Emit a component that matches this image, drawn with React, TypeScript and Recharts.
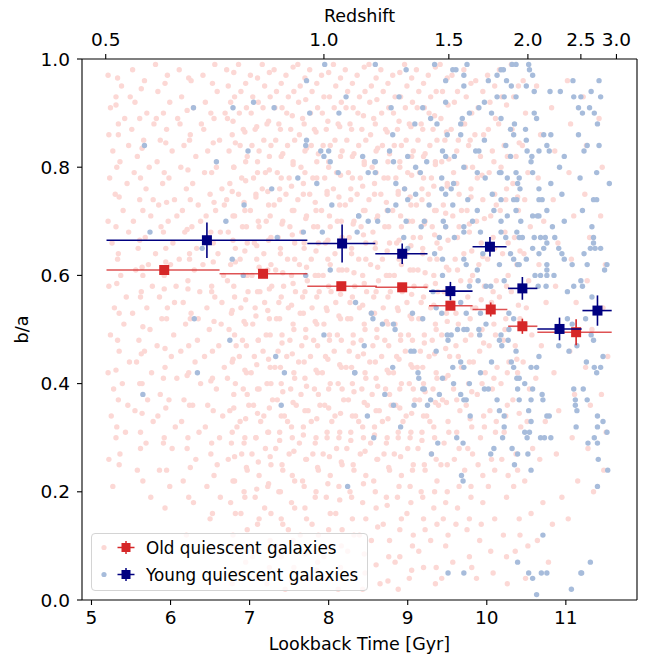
import { ScatterChart, Scatter, XAxis, YAxis, ErrorBar, ReferenceLine } from "recharts";

const FONT = "DejaVu Sans, sans-serif";
const PINK = "#fcd8d5";
const LIGHT_BLUE = "#a7bcdb";
const RED = "#d62728";
const NAVY = "#000080";

type P = [number, number];

// axes
const timeDomain: [number, number] = [4.88, 11.9];
const timeTicks = [5, 6, 7, 8, 9, 10, 11];
const baTicks = [0, 0.2, 0.4, 0.6, 0.8, 1.0];
const zLabels = ["0.5", "1.0", "1.5", "2.0", "2.5", "3.0"];
const zTickTimes = [5.18, 7.94, 9.52, 10.52, 11.19, 11.64];

// binned medians, old quiescent
const oldT = [5.92, 7.17, 8.16, 8.93, 9.54, 10.05, 10.45, 11.13];
const oldBa = [0.61, 0.603, 0.58, 0.578, 0.544, 0.537, 0.506, 0.495];
const oldLo = [5.19, 6.62, 7.73, 8.59, 9.27, 9.82, 10.27, 10.64];
const oldHi = [6.62, 7.73, 8.61, 9.25, 9.82, 10.26, 10.64, 11.58];
const oldErr = [0.006, 0.006, 0.006, 0.007, 0.008, 0.013, 0.014, 0.024];

// binned medians, young quiescent
const youngT = [6.46, 8.17, 8.93, 9.54, 10.04, 10.45, 10.92, 11.4];
const youngBa = [0.665, 0.659, 0.64, 0.571, 0.653, 0.576, 0.501, 0.535];
const youngLo = [5.19, 7.73, 8.59, 9.27, 9.82, 10.27, 10.64, 11.21];
const youngHi = [7.73, 8.59, 9.25, 9.82, 10.25, 10.64, 11.2, 11.58];
const youngErr = [0.033, 0.035, 0.019, 0.017, 0.018, 0.021, 0.021, 0.028];

// individual old galaxies (read roughly off the cloud)
const oldBand1: P[] = [[5.21,0.97],[5.24,0.91],[5.22,0.86],[5.27,0.83],[5.23,0.78],[5.30,0.75],[5.21,0.70],[5.26,0.66],[5.33,0.63],[5.22,0.58],[5.29,0.54],[5.24,0.49],[5.35,0.46],[5.21,0.42],[5.28,0.39],[5.25,0.34],[5.31,0.30],[5.22,0.26],[5.27,0.21],[5.38,0.95],[5.42,0.89],[5.36,0.81],[5.45,0.77],[5.40,0.72],[5.47,0.68],[5.37,0.60],[5.44,0.56],[5.41,0.51],[5.48,0.44],[5.39,0.40],[5.46,0.36],[5.43,0.31],[5.36,0.27],[5.49,0.93],[5.47,0.84],[5.34,0.88],[5.31,0.93],
[5.52,0.98],[5.55,0.92],[5.51,0.87],[5.58,0.82],[5.54,0.79],[5.61,0.74],[5.53,0.70],[5.59,0.65],[5.56,0.61],[5.63,0.57],[5.52,0.53],[5.60,0.48],[5.57,0.44],[5.64,0.40],[5.55,0.35],[5.62,0.31],[5.58,0.24],[5.67,0.96],[5.70,0.90],[5.66,0.85],[5.73,0.80],[5.69,0.76],[5.75,0.71],[5.68,0.67],[5.72,0.62],[5.77,0.58],[5.70,0.54],[5.74,0.50],[5.67,0.46],[5.76,0.42],[5.71,0.37],[5.78,0.33],[5.69,0.29],[5.75,0.19],[5.79,0.88],[5.78,0.74],[5.65,0.60]];
const oldBand2: P[] = [[5.81,0.99],[5.84,0.94],[5.82,0.89],[5.87,0.85],[5.83,0.81],[5.90,0.77],[5.85,0.73],[5.88,0.69],[5.81,0.64],[5.92,0.60],[5.86,0.56],[5.89,0.52],[5.83,0.47],[5.93,0.43],[5.87,0.38],[5.84,0.34],[5.91,0.29],[5.86,0.24],[5.96,0.97],[5.99,0.92],[5.95,0.87],[6.02,0.83],[5.98,0.78],[6.05,0.74],[5.97,0.70],[6.03,0.66],[6.00,0.62],[6.07,0.58],[5.96,0.54],[6.04,0.49],[6.01,0.45],[6.08,0.41],[5.98,0.37],[6.06,0.32],[6.02,0.28],[5.99,0.21],[6.09,0.89],[6.08,0.71],[5.94,0.65],[6.05,0.55],
[6.11,0.98],[6.14,0.93],[6.12,0.88],[6.17,0.84],[6.13,0.80],[6.20,0.76],[6.15,0.72],[6.18,0.68],[6.11,0.63],[6.22,0.59],[6.16,0.55],[6.19,0.51],[6.13,0.46],[6.23,0.42],[6.17,0.37],[6.14,0.33],[6.21,0.28],[6.16,0.22],[6.26,0.96],[6.29,0.91],[6.25,0.86],[6.32,0.82],[6.28,0.77],[6.35,0.73],[6.27,0.69],[6.33,0.65],[6.30,0.61],[6.37,0.57],[6.26,0.53],[6.34,0.48],[6.31,0.44],[6.38,0.40],[6.28,0.36],[6.36,0.31],[6.32,0.26],[6.29,0.18],[6.39,0.88],[6.38,0.70],[6.24,0.64],[6.35,0.52],[6.20,0.12],
[6.41,0.97],[6.44,0.92],[6.42,0.87],[6.47,0.83],[6.43,0.79],[6.50,0.75],[6.45,0.71],[6.48,0.67],[6.41,0.62],[6.52,0.58],[6.46,0.54],[6.49,0.50],[6.43,0.45],[6.53,0.41],[6.47,0.36],[6.44,0.32],[6.51,0.27],[6.46,0.21],[6.56,0.99],[6.59,0.94],[6.55,0.89],[6.62,0.85],[6.58,0.80],[6.65,0.76],[6.57,0.72],[6.63,0.68],[6.60,0.64],[6.67,0.60],[6.56,0.56],[6.64,0.51],[6.61,0.47],[6.68,0.43],[6.58,0.39],[6.66,0.34],[6.62,0.30],[6.59,0.25],[6.69,0.90],[6.68,0.73],[6.54,0.66],[6.65,0.55],[6.50,0.15],[6.63,0.19]];
const oldBand3: P[] = [[6.71,0.98],[6.73,0.95],[6.76,0.92],[6.72,0.89],[6.78,0.86],[6.74,0.83],[6.80,0.80],[6.75,0.77],[6.71,0.74],[6.79,0.71],[6.73,0.68],[6.82,0.65],[6.76,0.62],[6.72,0.59],[6.81,0.56],[6.77,0.53],[6.74,0.50],[6.83,0.47],[6.78,0.44],[6.72,0.41],[6.80,0.38],[6.75,0.35],[6.84,0.32],[6.77,0.29],[6.73,0.26],[6.81,0.22],[6.76,0.18],[6.79,0.12],[6.86,0.99],[6.89,0.94],[6.87,0.90],[6.92,0.87],[6.88,0.84],[6.95,0.81],[6.90,0.78],[6.86,0.75],[6.94,0.72],[6.91,0.69],[6.97,0.66],[6.88,0.63],[6.93,0.60],[6.98,0.57],[6.89,0.54],[6.95,0.51],[6.91,0.48],[6.87,0.45],[6.96,0.42],[6.92,0.39],[6.99,0.36],[6.88,0.33],[6.94,0.30],[6.90,0.27],[6.97,0.24],[6.93,0.20],[6.89,0.16],[6.96,0.09],[6.85,0.05],
[7.01,0.97],[7.04,0.93],[7.02,0.90],[7.07,0.87],[7.03,0.84],[7.10,0.81],[7.05,0.78],[7.08,0.75],[7.01,0.72],[7.12,0.69],[7.06,0.66],[7.09,0.63],[7.03,0.60],[7.13,0.57],[7.07,0.54],[7.04,0.51],[7.11,0.48],[7.06,0.45],[7.02,0.42],[7.10,0.39],[7.05,0.36],[7.14,0.33],[7.08,0.30],[7.03,0.27],[7.12,0.23],[7.07,0.19],[7.10,0.14],[7.04,0.08],[7.16,0.99],[7.19,0.95],[7.17,0.91],[7.22,0.88],[7.18,0.85],[7.25,0.82],[7.20,0.79],[7.16,0.76],[7.24,0.73],[7.21,0.70],[7.27,0.67],[7.18,0.64],[7.23,0.61],[7.28,0.58],[7.19,0.55],[7.25,0.52],[7.21,0.49],[7.17,0.46],[7.26,0.43],[7.22,0.40],[7.29,0.37],[7.18,0.34],[7.24,0.31],[7.20,0.28],[7.27,0.25],[7.23,0.21],[7.19,0.17],[7.26,0.11],[7.22,0.03]];
const oldBand4: P[] = [[7.31,0.98],[7.34,0.94],[7.32,0.91],[7.37,0.88],[7.33,0.85],[7.40,0.82],[7.35,0.79],[7.38,0.76],[7.31,0.73],[7.42,0.70],[7.36,0.67],[7.39,0.64],[7.33,0.61],[7.43,0.58],[7.37,0.55],[7.34,0.52],[7.41,0.49],[7.36,0.46],[7.32,0.43],[7.40,0.40],[7.35,0.37],[7.44,0.34],[7.38,0.31],[7.33,0.28],[7.42,0.24],[7.37,0.20],[7.40,0.15],[7.34,0.10],[7.46,0.97],[7.49,0.93],[7.47,0.90],[7.52,0.87],[7.48,0.84],[7.55,0.81],[7.50,0.78],[7.46,0.75],[7.54,0.72],[7.51,0.69],[7.57,0.66],[7.48,0.63],[7.53,0.60],[7.58,0.57],[7.49,0.54],[7.55,0.51],[7.51,0.48],[7.47,0.45],[7.56,0.42],[7.52,0.39],[7.59,0.36],[7.48,0.33],[7.54,0.30],[7.50,0.27],[7.57,0.22],[7.53,0.18],[7.49,0.13],[7.56,0.06],[7.45,0.02],
[7.61,0.99],[7.64,0.95],[7.62,0.92],[7.67,0.89],[7.63,0.86],[7.70,0.83],[7.65,0.80],[7.68,0.77],[7.61,0.74],[7.72,0.71],[7.66,0.68],[7.69,0.65],[7.63,0.62],[7.73,0.59],[7.67,0.56],[7.64,0.53],[7.71,0.50],[7.66,0.47],[7.62,0.44],[7.70,0.41],[7.65,0.38],[7.74,0.35],[7.68,0.32],[7.63,0.29],[7.72,0.26],[7.67,0.22],[7.70,0.17],[7.64,0.12],[7.76,0.98],[7.79,0.94],[7.77,0.90],[7.82,0.87],[7.78,0.84],[7.85,0.81],[7.80,0.78],[7.76,0.75],[7.84,0.72],[7.81,0.69],[7.87,0.66],[7.78,0.63],[7.83,0.60],[7.88,0.57],[7.79,0.54],[7.85,0.51],[7.81,0.48],[7.77,0.45],[7.86,0.42],[7.82,0.39],[7.89,0.36],[7.78,0.33],[7.84,0.30],[7.80,0.27],[7.87,0.24],[7.83,0.19],[7.79,0.14],[7.86,0.07],[7.75,0.04]];
const oldBand5: P[] = [[7.91,0.97],[7.94,0.93],[7.92,0.90],[7.97,0.87],[7.93,0.84],[8.00,0.81],[7.95,0.78],[7.98,0.75],[7.91,0.72],[8.02,0.69],[7.96,0.66],[7.99,0.63],[7.93,0.60],[8.03,0.57],[7.97,0.54],[7.94,0.51],[8.01,0.48],[7.96,0.45],[7.92,0.42],[8.00,0.39],[7.95,0.36],[8.04,0.33],[7.98,0.30],[7.93,0.27],[8.02,0.23],[7.97,0.19],[8.00,0.13],[7.94,0.08],[8.06,0.99],[8.09,0.95],[8.07,0.91],[8.12,0.88],[8.08,0.85],[8.15,0.82],[8.10,0.79],[8.06,0.76],[8.14,0.73],[8.11,0.70],[8.17,0.67],[8.08,0.64],[8.13,0.61],[8.18,0.58],[8.09,0.55],[8.15,0.52],[8.11,0.49],[8.07,0.46],[8.16,0.43],[8.12,0.40],[8.19,0.37],[8.08,0.34],[8.14,0.31],[8.10,0.28],[8.17,0.25],[8.13,0.21],[8.09,0.16],[8.16,0.10],[8.12,0.02],
[8.21,0.98],[8.24,0.94],[8.22,0.91],[8.27,0.88],[8.23,0.85],[8.30,0.82],[8.25,0.79],[8.28,0.76],[8.21,0.73],[8.32,0.70],[8.26,0.67],[8.29,0.64],[8.23,0.61],[8.33,0.58],[8.27,0.55],[8.24,0.52],[8.31,0.49],[8.26,0.46],[8.22,0.43],[8.30,0.40],[8.25,0.37],[8.34,0.34],[8.28,0.31],[8.23,0.28],[8.32,0.24],[8.27,0.20],[8.30,0.15],[8.24,0.09],[8.36,0.97],[8.39,0.93],[8.37,0.90],[8.42,0.87],[8.38,0.84],[8.45,0.81],[8.40,0.78],[8.36,0.75],[8.44,0.72],[8.41,0.69],[8.47,0.66],[8.38,0.63],[8.43,0.60],[8.48,0.57],[8.39,0.54],[8.45,0.51],[8.41,0.48],[8.37,0.45],[8.46,0.42],[8.42,0.39],[8.49,0.36],[8.38,0.33],[8.44,0.30],[8.40,0.27],[8.47,0.23],[8.43,0.18],[8.39,0.12],[8.46,0.05]];
const oldBand6: P[] = [[8.51,0.99],[8.54,0.95],[8.52,0.92],[8.57,0.89],[8.53,0.86],[8.60,0.83],[8.55,0.80],[8.58,0.77],[8.51,0.74],[8.62,0.71],[8.56,0.68],[8.59,0.65],[8.53,0.62],[8.63,0.59],[8.57,0.56],[8.54,0.53],[8.61,0.50],[8.56,0.47],[8.52,0.44],[8.60,0.41],[8.55,0.38],[8.64,0.35],[8.58,0.32],[8.53,0.29],[8.62,0.26],[8.57,0.22],[8.60,0.17],[8.54,0.11],[8.66,0.98],[8.69,0.94],[8.67,0.90],[8.72,0.87],[8.68,0.84],[8.75,0.81],[8.70,0.78],[8.66,0.75],[8.74,0.72],[8.71,0.69],[8.77,0.66],[8.68,0.63],[8.73,0.60],[8.78,0.57],[8.69,0.54],[8.75,0.51],[8.71,0.48],[8.67,0.45],[8.76,0.42],[8.72,0.39],[8.79,0.36],[8.68,0.33],[8.74,0.30],[8.70,0.27],[8.77,0.24],[8.73,0.19],[8.69,0.14],[8.76,0.08],[8.65,0.03],
[8.81,0.97],[8.84,0.93],[8.82,0.90],[8.87,0.87],[8.83,0.84],[8.90,0.81],[8.85,0.78],[8.88,0.75],[8.81,0.72],[8.92,0.69],[8.86,0.66],[8.89,0.63],[8.83,0.60],[8.93,0.57],[8.87,0.54],[8.84,0.51],[8.91,0.48],[8.86,0.45],[8.82,0.42],[8.90,0.39],[8.85,0.36],[8.94,0.33],[8.88,0.30],[8.83,0.27],[8.92,0.23],[8.87,0.19],[8.90,0.13],[8.84,0.07],[8.96,0.99],[8.99,0.95],[8.97,0.91],[9.02,0.88],[8.98,0.85],[9.05,0.82],[9.00,0.79],[8.96,0.76],[9.04,0.73],[9.01,0.70],[9.07,0.67],[8.98,0.64],[9.03,0.61],[9.08,0.58],[8.99,0.55],[9.05,0.52],[9.01,0.49],[8.97,0.46],[9.06,0.43],[9.02,0.40],[9.09,0.37],[8.98,0.34],[9.04,0.31],[9.00,0.28],[9.07,0.25],[9.03,0.21],[8.99,0.16],[9.06,0.10],[9.02,0.04]];
const oldBand7: P[] = [[9.11,0.98],[9.14,0.94],[9.12,0.91],[9.17,0.88],[9.13,0.85],[9.20,0.82],[9.15,0.79],[9.18,0.76],[9.11,0.73],[9.22,0.70],[9.16,0.67],[9.19,0.64],[9.13,0.61],[9.23,0.58],[9.17,0.55],[9.14,0.52],[9.21,0.49],[9.16,0.46],[9.12,0.43],[9.20,0.40],[9.15,0.37],[9.24,0.34],[9.18,0.31],[9.13,0.28],[9.22,0.24],[9.17,0.20],[9.20,0.15],[9.14,0.09],[9.26,0.97],[9.29,0.93],[9.27,0.90],[9.32,0.87],[9.28,0.84],[9.35,0.81],[9.30,0.78],[9.26,0.75],[9.34,0.72],[9.31,0.69],[9.37,0.66],[9.28,0.63],[9.33,0.60],[9.38,0.57],[9.29,0.54],[9.35,0.51],[9.31,0.48],[9.27,0.45],[9.36,0.42],[9.32,0.39],[9.39,0.36],[9.28,0.33],[9.34,0.30],[9.30,0.27],[9.37,0.22],[9.33,0.17],[9.29,0.11],[9.36,0.06],
[9.41,0.99],[9.44,0.94],[9.42,0.89],[9.47,0.85],[9.43,0.81],[9.50,0.77],[9.45,0.73],[9.48,0.69],[9.41,0.65],[9.52,0.61],[9.46,0.57],[9.49,0.53],[9.43,0.49],[9.53,0.45],[9.47,0.41],[9.44,0.37],[9.51,0.33],[9.46,0.29],[9.42,0.25],[9.50,0.20],[9.45,0.15],[9.48,0.10],[9.43,0.04],[9.56,0.97],[9.59,0.92],[9.55,0.87],[9.62,0.83],[9.58,0.79],[9.65,0.75],[9.57,0.71],[9.63,0.67],[9.60,0.63],[9.67,0.59],[9.56,0.55],[9.64,0.51],[9.61,0.47],[9.68,0.43],[9.58,0.39],[9.66,0.35],[9.62,0.31],[9.59,0.26],[9.65,0.21],[9.61,0.14],[9.57,0.07],[9.69,0.88],[9.68,0.72]];
const oldBand8: P[] = [[9.71,0.98],[9.74,0.93],[9.72,0.88],[9.77,0.84],[9.73,0.80],[9.80,0.76],[9.75,0.72],[9.78,0.68],[9.71,0.64],[9.82,0.60],[9.76,0.56],[9.79,0.52],[9.73,0.48],[9.83,0.44],[9.77,0.40],[9.74,0.36],[9.81,0.32],[9.76,0.28],[9.72,0.24],[9.80,0.19],[9.75,0.13],[9.78,0.08],[9.86,0.96],[9.89,0.91],[9.85,0.86],[9.92,0.82],[9.88,0.78],[9.95,0.74],[9.87,0.70],[9.93,0.66],[9.90,0.62],[9.97,0.58],[9.86,0.54],[9.94,0.50],[9.91,0.46],[9.98,0.42],[9.88,0.38],[9.96,0.34],[9.92,0.30],[9.89,0.25],[9.95,0.18],[9.91,0.11],[9.87,0.04],
[10.01,0.97],[10.04,0.92],[10.02,0.87],[10.07,0.83],[10.03,0.79],[10.10,0.75],[10.05,0.71],[10.08,0.67],[10.01,0.63],[10.12,0.59],[10.06,0.55],[10.09,0.51],[10.03,0.47],[10.13,0.43],[10.07,0.39],[10.04,0.35],[10.11,0.31],[10.06,0.26],[10.02,0.21],[10.10,0.15],[10.05,0.09],[10.16,0.98],[10.19,0.93],[10.15,0.88],[10.22,0.84],[10.18,0.80],[10.25,0.76],[10.17,0.72],[10.23,0.68],[10.20,0.64],[10.27,0.60],[10.16,0.56],[10.24,0.52],[10.21,0.48],[10.28,0.44],[10.18,0.40],[10.26,0.36],[10.22,0.31],[10.19,0.26],[10.25,0.19],[10.21,0.12],[10.26,0.03]];
const oldBand9: P[] = [[10.31,0.99],[10.34,0.93],[10.32,0.87],[10.37,0.82],[10.33,0.77],[10.40,0.72],[10.35,0.67],[10.38,0.62],[10.31,0.57],[10.42,0.52],[10.36,0.47],[10.39,0.42],[10.33,0.37],[10.43,0.32],[10.37,0.27],[10.34,0.21],[10.41,0.15],[10.36,0.09],[10.46,0.96],[10.49,0.90],[10.45,0.84],[10.52,0.79],[10.48,0.74],[10.55,0.69],[10.47,0.64],[10.53,0.59],[10.50,0.54],[10.57,0.49],[10.46,0.44],[10.54,0.39],[10.51,0.33],[10.58,0.28],[10.48,0.22],[10.56,0.16],[10.52,0.10],[10.49,0.04],
[10.63,0.95],[10.68,0.86],[10.65,0.78],[10.72,0.70],[10.66,0.62],[10.75,0.55],[10.69,0.47],[10.62,0.41],[10.74,0.33],[10.67,0.26],[10.71,0.18],[10.64,0.11],[10.78,0.07],[10.82,0.91],[10.86,0.83],[10.84,0.74],[10.90,0.66],[10.87,0.58],[10.93,0.50],[10.85,0.42],[10.91,0.35],[10.88,0.27],[10.95,0.19],[10.83,0.14],[11.02,0.96],[11.06,0.88],[11.04,0.79],[11.10,0.71],[11.07,0.63],[11.13,0.55],[11.05,0.46],[11.11,0.38],[11.08,0.30],[11.15,0.22],[11.03,0.15],[11.22,0.93],[11.26,0.84],[11.24,0.75],[11.30,0.67],[11.27,0.59],[11.33,0.50],[11.25,0.43],[11.31,0.36],[11.28,0.28],[11.35,0.20],[11.42,0.89],[11.46,0.80],[11.44,0.71],[11.50,0.62],[11.47,0.54],[11.53,0.45],[11.45,0.38],[11.51,0.31],[11.48,0.24]];
// filling in between the first pass
const oldFill1: P[] = [[5.33,0.965],[5.31,0.915],[5.34,0.86],[5.32,0.80],[5.35,0.745],[5.31,0.69],[5.34,0.64],[5.32,0.585],[5.35,0.53],[5.33,0.48],[5.31,0.425],[5.34,0.37],[5.32,0.32],[5.35,0.25],
[5.63,0.945],[5.61,0.89],[5.64,0.835],[5.62,0.78],[5.65,0.72],[5.61,0.665],[5.64,0.615],[5.62,0.56],[5.65,0.505],[5.63,0.455],[5.61,0.40],[5.64,0.345],[5.62,0.28],[5.65,0.22],
[5.93,0.955],[5.91,0.90],[5.94,0.845],[5.92,0.79],[5.95,0.735],[5.91,0.68],[5.94,0.625],[5.92,0.575],[5.95,0.52],[5.93,0.465],[5.91,0.41],[5.94,0.355],[5.92,0.30],[5.95,0.24],[5.93,0.17],
[6.23,0.965],[6.21,0.905],[6.24,0.85],[6.22,0.795],[6.25,0.74],[6.21,0.685],[6.24,0.63],[6.22,0.575],[6.25,0.52],[6.23,0.47],[6.21,0.415],[6.24,0.36],[6.22,0.30],[6.25,0.245],[6.23,0.19],
[6.53,0.955],[6.51,0.90],[6.54,0.845],[6.52,0.79],[6.55,0.735],[6.51,0.68],[6.54,0.625],[6.52,0.57],[6.55,0.515],[6.53,0.46],[6.51,0.405],[6.54,0.35],[6.52,0.29],[6.55,0.23],[6.53,0.16]];
const oldFill2: P[] = [[6.80,0.975],[6.81,0.93],[6.79,0.885],[6.82,0.845],[6.80,0.80],[6.78,0.755],[6.81,0.71],[6.79,0.665],[6.82,0.625],[6.80,0.58],[6.78,0.535],[6.81,0.49],[6.79,0.445],[6.82,0.40],[6.80,0.355],[6.78,0.31],[6.81,0.265],[6.79,0.22],[6.82,0.16],[6.80,0.10],[6.78,0.03],
[6.95,0.955],[6.96,0.91],[6.94,0.865],[6.97,0.82],[6.95,0.775],[6.93,0.735],[6.96,0.69],[6.94,0.645],[6.97,0.60],[6.95,0.555],[6.93,0.515],[6.96,0.47],[6.94,0.425],[6.97,0.38],[6.95,0.335],[6.93,0.29],[6.96,0.245],[6.94,0.19],[6.97,0.13],[6.95,0.07],
[7.10,0.965],[7.11,0.92],[7.09,0.875],[7.12,0.83],[7.10,0.79],[7.08,0.745],[7.11,0.70],[7.09,0.655],[7.12,0.615],[7.10,0.57],[7.08,0.525],[7.11,0.48],[7.09,0.435],[7.12,0.39],[7.10,0.345],[7.08,0.30],[7.11,0.255],[7.09,0.205],[7.12,0.15],[7.10,0.09],[7.08,0.04],
[7.25,0.975],[7.26,0.93],[7.24,0.885],[7.27,0.84],[7.25,0.795],[7.23,0.755],[7.26,0.71],[7.24,0.665],[7.27,0.62],[7.25,0.575],[7.23,0.535],[7.26,0.49],[7.24,0.445],[7.27,0.40],[7.25,0.355],[7.23,0.31],[7.26,0.265],[7.24,0.215],[7.27,0.16],[7.25,0.06]];
const oldFill3: P[] = [[7.40,0.955],[7.41,0.91],[7.39,0.87],[7.42,0.825],[7.40,0.78],[7.38,0.74],[7.41,0.695],[7.39,0.65],[7.42,0.605],[7.40,0.56],[7.38,0.52],[7.41,0.475],[7.39,0.43],[7.42,0.385],[7.40,0.34],[7.38,0.295],[7.41,0.25],[7.39,0.20],[7.42,0.14],[7.40,0.08],
[7.55,0.985],[7.56,0.94],[7.54,0.895],[7.57,0.85],[7.55,0.805],[7.53,0.765],[7.56,0.72],[7.54,0.675],[7.57,0.63],[7.55,0.585],[7.53,0.545],[7.56,0.50],[7.54,0.455],[7.57,0.41],[7.55,0.365],[7.53,0.32],[7.56,0.275],[7.54,0.23],[7.57,0.17],[7.55,0.11],[7.53,0.035],
[7.70,0.965],[7.71,0.925],[7.69,0.88],[7.72,0.835],[7.70,0.79],[7.68,0.75],[7.71,0.705],[7.69,0.66],[7.72,0.615],[7.70,0.57],[7.68,0.53],[7.71,0.485],[7.69,0.44],[7.72,0.395],[7.70,0.35],[7.68,0.305],[7.71,0.26],[7.69,0.21],[7.72,0.15],[7.70,0.085],
[7.85,0.955],[7.86,0.91],[7.84,0.865],[7.87,0.825],[7.85,0.78],[7.83,0.735],[7.86,0.69],[7.84,0.645],[7.87,0.60],[7.85,0.56],[7.83,0.515],[7.86,0.47],[7.84,0.425],[7.87,0.38],[7.85,0.335],[7.83,0.29],[7.86,0.245],[7.84,0.20],[7.87,0.12],[7.85,0.055]];
const oldFill4: P[] = [[8.00,0.975],[8.01,0.93],[7.99,0.885],[8.02,0.84],[8.00,0.80],[7.98,0.755],[8.01,0.71],[7.99,0.665],[8.02,0.62],[8.00,0.58],[7.98,0.535],[8.01,0.49],[7.99,0.445],[8.02,0.40],[8.00,0.355],[7.98,0.31],[8.01,0.265],[7.99,0.215],[8.02,0.16],[8.00,0.095],[7.98,0.04],
[8.15,0.965],[8.16,0.92],[8.14,0.875],[8.17,0.83],[8.15,0.785],[8.13,0.745],[8.16,0.70],[8.14,0.655],[8.17,0.61],[8.15,0.565],[8.13,0.525],[8.16,0.48],[8.14,0.435],[8.17,0.39],[8.15,0.345],[8.13,0.30],[8.16,0.255],[8.14,0.185],[8.17,0.13],[8.15,0.06],
[8.30,0.955],[8.31,0.91],[8.29,0.87],[8.32,0.825],[8.30,0.78],[8.28,0.74],[8.31,0.695],[8.29,0.65],[8.32,0.605],[8.30,0.56],[8.28,0.52],[8.31,0.475],[8.29,0.43],[8.32,0.385],[8.30,0.34],[8.28,0.295],[8.31,0.25],[8.29,0.19],[8.32,0.12],[8.30,0.045],
[8.45,0.985],[8.46,0.94],[8.44,0.895],[8.47,0.85],[8.45,0.805],[8.43,0.765],[8.46,0.72],[8.44,0.675],[8.47,0.63],[8.45,0.585],[8.43,0.545],[8.46,0.50],[8.44,0.455],[8.47,0.41],[8.45,0.365],[8.43,0.32],[8.46,0.275],[8.44,0.215],[8.47,0.15],[8.45,0.085],[8.43,0.02]];
const oldFill5: P[] = [[8.60,0.965],[8.61,0.925],[8.59,0.88],[8.62,0.835],[8.60,0.79],[8.58,0.75],[8.61,0.705],[8.59,0.66],[8.62,0.615],[8.60,0.57],[8.58,0.53],[8.61,0.485],[8.59,0.44],[8.62,0.395],[8.60,0.35],[8.58,0.305],[8.61,0.26],[8.59,0.20],[8.62,0.135],[8.60,0.065],
[8.75,0.955],[8.76,0.91],[8.74,0.865],[8.77,0.825],[8.75,0.78],[8.73,0.735],[8.76,0.69],[8.74,0.645],[8.77,0.60],[8.75,0.56],[8.73,0.515],[8.76,0.47],[8.74,0.425],[8.77,0.38],[8.75,0.335],[8.73,0.29],[8.76,0.245],[8.74,0.175],[8.77,0.11],[8.75,0.035],
[8.90,0.975],[8.91,0.93],[8.89,0.885],[8.92,0.84],[8.90,0.80],[8.88,0.755],[8.91,0.71],[8.89,0.665],[8.92,0.62],[8.90,0.58],[8.88,0.535],[8.91,0.49],[8.89,0.445],[8.92,0.40],[8.90,0.355],[8.88,0.31],[8.91,0.265],[8.89,0.21],[8.92,0.15],[8.90,0.08],[8.88,0.02],
[9.05,0.965],[9.06,0.92],[9.04,0.875],[9.07,0.83],[9.05,0.785],[9.03,0.745],[9.06,0.70],[9.04,0.655],[9.07,0.61],[9.05,0.565],[9.03,0.525],[9.06,0.48],[9.04,0.435],[9.07,0.39],[9.05,0.345],[9.03,0.30],[9.06,0.24],[9.04,0.18],[9.07,0.12],[9.05,0.055]];
const oldFill6: P[] = [[9.20,0.955],[9.21,0.91],[9.19,0.87],[9.22,0.825],[9.20,0.78],[9.18,0.74],[9.21,0.695],[9.19,0.65],[9.22,0.605],[9.20,0.56],[9.18,0.52],[9.21,0.475],[9.19,0.43],[9.22,0.385],[9.20,0.34],[9.18,0.295],[9.21,0.25],[9.19,0.19],[9.22,0.13],[9.20,0.06],
[9.35,0.985],[9.36,0.94],[9.34,0.895],[9.37,0.85],[9.35,0.805],[9.33,0.765],[9.36,0.72],[9.34,0.675],[9.37,0.63],[9.35,0.585],[9.33,0.545],[9.36,0.50],[9.34,0.455],[9.37,0.41],[9.35,0.365],[9.33,0.32],[9.36,0.26],[9.34,0.20],[9.37,0.14],[9.35,0.03],
[9.50,0.965],[9.51,0.915],[9.49,0.865],[9.52,0.815],[9.50,0.765],[9.48,0.715],[9.51,0.665],[9.49,0.615],[9.52,0.565],[9.50,0.515],[9.48,0.465],[9.51,0.415],[9.49,0.365],[9.52,0.31],[9.50,0.25],[9.48,0.18],[9.51,0.12],
[9.63,0.94],[9.64,0.85],[9.62,0.77],[9.65,0.69],[9.63,0.61],[9.61,0.53],[9.64,0.45],[9.62,0.37],[9.65,0.28],[9.63,0.17],
[9.80,0.955],[9.81,0.90],[9.79,0.85],[9.82,0.80],[9.80,0.745],[9.78,0.695],[9.81,0.645],[9.79,0.59],[9.82,0.54],[9.80,0.49],[9.78,0.44],[9.81,0.385],[9.79,0.335],[9.82,0.27],[9.80,0.21],[9.78,0.15],[9.81,0.06],
[9.95,0.94],[9.96,0.86],[9.94,0.785],[9.97,0.705],[9.95,0.635],[9.93,0.555],[9.96,0.475],[9.94,0.40],[9.97,0.32],[9.95,0.23],[9.93,0.14],
[10.10,0.95],[10.11,0.89],[10.09,0.81],[10.12,0.73],[10.10,0.65],[10.08,0.57],[10.11,0.49],[10.09,0.41],[10.12,0.33],[10.10,0.24],[10.08,0.05],
[10.25,0.915],[10.26,0.82],[10.24,0.74],[10.27,0.66],[10.25,0.58],[10.23,0.50],[10.26,0.42],[10.24,0.34],[10.27,0.23],[10.25,0.08],
[10.40,0.95],[10.41,0.845],[10.39,0.745],[10.42,0.645],[10.40,0.545],[10.38,0.445],[10.41,0.345],[10.39,0.24],[10.42,0.12]];

// individual young galaxies
const youngLeft: P[] = [[7.95,0.99],[7.72,0.96],[8.22,0.93],[7.05,0.92],[7.31,0.91],[6.29,0.91],[6.79,0.91],[7.76,0.90],[8.13,0.90],[7.72,0.85],[7.71,0.84],[5.67,0.84],[6.98,0.83],[7.90,0.83],[7.94,0.82],[8.00,0.83],[8.02,0.81],[6.58,0.81],[8.12,0.79],[7.61,0.78],[7.85,0.77],[7.28,0.76],[8.04,0.73],[6.93,0.73],[6.70,0.70],[5.74,0.68],[7.68,0.68],[7.92,0.68],[7.35,0.67],[8.36,0.68],[6.40,0.65],[6.78,0.63],[8.02,0.61],[6.92,0.60],[7.71,0.60],[8.34,0.55],[6.30,0.52],[8.38,0.71],
[6.75,0.48],[7.94,0.49],[7.33,0.45],[6.34,0.42],[7.44,0.42],[8.33,0.42],[5.65,0.38],[7.40,0.36],[8.24,0.21]];
const youngUpper: P[] = [[8.59,0.99],[8.98,0.98],[9.34,0.99],[9.57,0.98],[9.61,0.98],[9.75,0.99],[9.71,0.97],[10.18,0.98],[10.21,0.98],[10.32,0.99],[10.37,0.99],[10.53,0.99],[10.54,0.98],[10.13,0.97],[10.25,0.96],[10.58,0.97],[11.09,0.96],[11.42,0.96],[9.48,0.96],[10.02,0.96],[9.71,0.95],[10.31,0.95],[10.50,0.95],[10.60,0.94],[10.80,0.94],[10.93,0.94],[11.19,0.93],[11.10,0.93],[11.32,0.94],[11.44,0.93],[8.89,0.93],[10.13,0.93],[10.22,0.93],[10.37,0.93],[9.90,0.91],[9.97,0.92],[10.06,0.90],[9.78,0.90],[8.79,0.91],[9.19,0.91],[9.48,0.92],[9.29,0.89],[9.69,0.89],[10.18,0.89],[10.35,0.88],[10.60,0.90],[10.63,0.89],[11.16,0.91],[11.30,0.91],[11.21,0.90],[11.36,0.90],[11.40,0.88],[9.09,0.88],[9.37,0.88],[9.67,0.88],[10.30,0.87],[10.34,0.86],[10.49,0.87],[10.72,0.86],[10.81,0.86],[8.81,0.86],[9.50,0.86],[9.67,0.86],[9.97,0.85],[10.24,0.84],[10.50,0.85],[10.76,0.84],[11.16,0.86],[11.27,0.84],[11.42,0.84],[8.77,0.83],[9.00,0.82],[9.44,0.83],[9.48,0.82],[9.86,0.83],[9.90,0.83],[10.30,0.82],[10.51,0.83],[10.66,0.83],[10.79,0.83],[10.98,0.82],[11.23,0.83],[8.43,0.82],[8.58,0.81],[8.59,0.81],[8.82,0.81],[9.10,0.80],[9.24,0.81],[9.59,0.82],[9.71,0.80],[10.16,0.79],[10.18,0.79],[10.37,0.79],[10.41,0.78],[10.57,0.82],[10.56,0.81],[10.58,0.79],[10.92,0.80],[8.50,0.79],[8.59,0.79],[8.85,0.77],[9.16,0.79],[9.43,0.78],[9.58,0.77],[9.88,0.79],[9.98,0.78],[10.26,0.78],[10.39,0.77],[10.42,0.76],[10.66,0.76],[10.81,0.77],[11.18,0.78],[11.39,0.79],[11.55,0.77],[8.96,0.76],[9.10,0.75],[9.43,0.76],[9.48,0.75],[9.55,0.76],[9.76,0.74],[10.07,0.75],[10.18,0.74],[10.34,0.74],[10.38,0.74],[10.66,0.74],[10.70,0.74],[10.95,0.75],[11.35,0.74],[11.39,0.74],[8.85,0.73],[9.00,0.74],[9.27,0.73],[9.57,0.73],[9.88,0.72],[10.09,0.72],[10.37,0.72],[10.58,0.71],[10.64,0.71],[10.66,0.71],[10.76,0.72],[11.21,0.72],[8.50,0.70],[8.38,0.71],[8.62,0.70],[8.98,0.70],[9.21,0.70],[9.45,0.70],[9.48,0.69],[9.71,0.69],[9.82,0.70],[10.18,0.70],[10.26,0.71],[10.43,0.70],[10.83,0.69],[10.98,0.70],[11.33,0.69],[8.75,0.72]];
const youngMid: P[] = [[9.17,0.69],[9.40,0.67],[9.59,0.67],[9.71,0.68],[9.92,0.68],[10.18,0.68],[10.24,0.67],[10.38,0.68],[10.41,0.67],[10.45,0.67],[10.60,0.67],[10.68,0.67],[10.74,0.67],[10.76,0.66],[10.86,0.67],[11.35,0.67],[11.35,0.66],[11.44,0.65],[11.37,0.65],[11.31,0.65],[11.23,0.64],[8.95,0.67],[9.34,0.64],[9.44,0.63],[9.71,0.63],[9.74,0.62],[9.95,0.64],[10.16,0.62],[10.30,0.64],[10.34,0.63],[10.39,0.62],[10.41,0.62],[10.50,0.63],[10.58,0.65],[10.66,0.64],[10.72,0.65],[10.76,0.62],[10.76,0.61],[10.91,0.65],[10.95,0.64],[10.98,0.63],[11.08,0.62],[11.27,0.62],[11.52,0.62],[11.49,0.61],[10.76,0.60],[10.61,0.60],[10.68,0.60],[10.85,0.60],[9.44,0.60],[9.78,0.58],[9.88,0.61],[9.89,0.59],[9.99,0.58],[10.05,0.58],[10.22,0.59],[10.65,0.58],[10.75,0.58],[11.02,0.57],[11.10,0.58],[11.19,0.59],[11.21,0.58],[11.33,0.56],[8.54,0.53],[8.56,0.52],[8.68,0.51],[8.82,0.51],[9.06,0.53],[9.19,0.52],[9.32,0.57],[9.36,0.54],[9.43,0.53],[9.67,0.55],[9.74,0.53],[9.92,0.53],[9.99,0.51],[10.28,0.53],[10.34,0.52],[10.48,0.51],[11.02,0.52],[11.08,0.51],[11.25,0.52],[9.00,0.65]];
const youngLower: P[] = [[8.45,0.47],[8.84,0.50],[9.04,0.46],[9.08,0.46],[8.81,0.43],[8.33,0.42],[9.13,0.42],[9.14,0.41],[9.19,0.39],[9.21,0.39],[8.71,0.38],[8.82,0.36],[9.08,0.36],[9.25,0.36],[9.29,0.37],[9.40,0.38],[9.44,0.41],[9.58,0.40],[9.36,0.46],[9.50,0.49],[9.51,0.48],[9.55,0.49],[9.63,0.50],[9.71,0.50],[9.75,0.50],[9.67,0.44],[9.71,0.43],[9.57,0.43],[9.78,0.40],[9.67,0.38],[9.71,0.37],[9.74,0.37],[9.79,0.34],[9.90,0.50],[9.91,0.49],[9.92,0.42],[9.97,0.39],[10.02,0.39],[10.06,0.44],[10.13,0.37],[10.16,0.35],[10.22,0.34],[10.16,0.48],[10.18,0.49],[10.19,0.47],[10.27,0.48],[10.28,0.50],[10.31,0.44],[10.34,0.43],[10.37,0.46],[10.38,0.41],[10.41,0.41],[10.39,0.39],[10.41,0.37],[10.48,0.40],[10.53,0.35],[10.56,0.37],[10.58,0.39],[10.56,0.43],[10.63,0.43],[10.22,0.32],[10.20,0.30],[10.32,0.28],[10.39,0.27],[10.35,0.25],[10.52,0.27],[10.56,0.24],[10.48,0.31],[10.54,0.31],[10.51,0.30],[10.56,0.33],[10.66,0.45],[10.70,0.38],[10.71,0.37],[10.76,0.34],[10.79,0.34],[10.68,0.30],[10.73,0.30],[10.81,0.30],[10.91,0.47],[11.04,0.46],[11.14,0.47],[11.10,0.39],[11.22,0.39],[11.12,0.37],[11.12,0.36],[11.14,0.35],[11.27,0.37],[11.26,0.44],[11.36,0.43],[11.39,0.42],[11.44,0.43],[11.32,0.49],[11.35,0.48],[11.47,0.45],[11.40,0.34],[11.47,0.33],[11.13,0.32],[11.40,0.32],[11.52,0.31],[11.36,0.30],[11.40,0.29],[11.28,0.29],[11.41,0.26],[11.53,0.24],[11.40,0.21],[9.62,0.30],[9.70,0.29],[9.70,0.22],[9.68,0.23],[9.38,0.29],[9.30,0.27],[8.91,0.32],[8.57,0.30],[8.49,0.34],[10.05,0.27],[10.09,0.28],[10.71,0.12],[10.39,0.07],[10.53,0.05],[10.58,0.04],[10.69,0.05],[10.76,0.05],[10.63,0.01],[11.07,0.02],[11.19,0.05],[11.20,0.05],[11.31,0.07],[9.51,0.05],[9.71,0.05]];

const toPoints = (pts: P[]) => pts.map(([t, ba]) => ({ t, ba }));
const oldPoints = toPoints([
  ...oldBand1, ...oldBand2, ...oldBand3, ...oldBand4, ...oldBand5, ...oldBand6, ...oldBand7, ...oldBand8, ...oldBand9,
  ...oldFill1, ...oldFill2, ...oldFill3, ...oldFill4, ...oldFill5, ...oldFill6,
]);
const youngPoints = toPoints([...youngLeft, ...youngUpper, ...youngMid, ...youngLower]);

const toBins = (t: number[], ba: number[], lo: number[], hi: number[], err: number[]) =>
  t.map((x, i) => ({ t: x, ba: ba[i], ex: [x - lo[i], hi[i] - x], ey: err[i] }));
const oldBins = toBins(oldT, oldBa, oldLo, oldHi, oldErr);
const youngBins = toBins(youngT, youngBa, youngLo, youngHi, youngErr);

const dot = (fill: string) => (p: any) => <circle cx={p.cx} cy={p.cy} r={2.7} fill={fill} />;
const square = (fill: string) => (p: any) => (
  <rect x={p.cx - 5} y={p.cy - 5} width={10} height={10} fill={fill} />
);

const tickStyle = { fill: "#000", fontSize: 18.5, fontFamily: FONT };
const axisLine = { stroke: "#000", strokeWidth: 1.1 };
const tickLine = { stroke: "#000", strokeWidth: 1.1 };

function LegendBox() {
  const rows = [
    { label: "Old quiescent galaxies", dot: PINK, mark: RED, line: RED },
    { label: "Young quiescent galaxies", dot: LIGHT_BLUE, mark: NAVY, line: NAVY },
  ];
  return (
    <div
      style={{
        position: "absolute",
        left: 91,
        top: 533,
        width: 277,
        height: 58,
        boxSizing: "border-box",
        border: "1px solid #d4d4d4",
        borderRadius: 4,
        background: "rgba(255,255,255,0.8)",
        fontFamily: FONT,
        fontSize: 16.8,
        color: "#000",
      }}
    >
      {rows.map((r, i) => (
        <div
          key={r.label}
          style={{ position: "absolute", left: 0, top: i * 27.3, height: 27, display: "flex", alignItems: "center" }}
        >
          <svg width={54} height={27}>
            <circle cx={12} cy={13.5} r={2.6} fill={r.dot} />
            <line x1={25.5} x2={42.5} y1={13.5} y2={13.5} stroke={r.line} strokeWidth={1.5} />
            <line x1={34} x2={34} y1={7} y2={20} stroke={r.line} strokeWidth={1.5} />
            <rect x={29.5} y={9} width={9} height={9} fill={r.mark} />
          </svg>
          <span style={{ whiteSpace: "nowrap" }}>{r.label}</span>
        </div>
      ))}
    </div>
  );
}

export default function App() {
  return (
    <div style={{ position: "absolute", left: 0, top: 0, width: 654, height: 656, background: "#fff" }}>
      <ScatterChart width={654} height={656} margin={{ top: 0, right: 17, bottom: 0, left: 0 }}>
        <XAxis
          dataKey="t"
          type="number"
          domain={timeDomain}
          ticks={timeTicks}
          allowDataOverflow
          height={56}
          tick={tickStyle}
          tickSize={5}
          tickMargin={6}
          axisLine={axisLine}
          tickLine={tickLine}
          label={({ viewBox }: any) => (
            <text
              x={viewBox.x + viewBox.width / 2}
              y={viewBox.y + 50}
              textAnchor="middle"
              fontFamily={FONT}
              fontSize={17.5}
              fill="#000"
            >
              Lookback Time [Gyr]
            </text>
          )}
        />
        <XAxis
          xAxisId="top"
          orientation="top"
          dataKey="t"
          type="number"
          domain={timeDomain}
          ticks={zTickTimes}
          tickFormatter={(v: number) => zLabels[zTickTimes.indexOf(v)] ?? ""}
          allowDataOverflow
          height={59}
          tick={tickStyle}
          tickSize={5}
          tickMargin={8}
          axisLine={axisLine}
          tickLine={tickLine}
          label={({ viewBox }: any) => (
            <text
              x={viewBox.x + viewBox.width / 2}
              y={viewBox.y + 22}
              textAnchor="middle"
              fontFamily={FONT}
              fontSize={17.5}
              fill="#000"
            >
              Redshift
            </text>
          )}
        />
        <YAxis
          dataKey="ba"
          type="number"
          domain={[0, 1]}
          ticks={baTicks}
          tickFormatter={(v: number) => v.toFixed(1)}
          allowDataOverflow
          width={82}
          tick={tickStyle}
          tickSize={5}
          tickMargin={7}
          axisLine={axisLine}
          tickLine={tickLine}
          label={({ viewBox }: any) => {
            const x = viewBox.x + 22;
            const y = viewBox.y + viewBox.height / 2;
            return (
              <text
                x={x}
                y={y}
                transform={`rotate(-90 ${x} ${y})`}
                textAnchor="middle"
                dominantBaseline="central"
                fontFamily={FONT}
                fontSize={17.5}
                fill="#000"
              >
                b/a
              </text>
            );
          }}
        />
        <ReferenceLine x={timeDomain[1]} stroke="#000" strokeWidth={1.1} />
        <Scatter data={oldPoints} shape={dot(PINK)} isAnimationActive={false} />
        <Scatter data={youngPoints} shape={dot(LIGHT_BLUE)} isAnimationActive={false} />
        <Scatter data={oldBins} shape={square(RED)} isAnimationActive={false} zIndex={800}>
          <ErrorBar dataKey="ex" direction="x" width={0} stroke={RED} strokeOpacity={0.8} strokeWidth={1.6} isAnimationActive={false} zIndex={700} />
          <ErrorBar dataKey="ey" direction="y" width={0} stroke={RED} strokeWidth={1.6} isAnimationActive={false} zIndex={700} />
        </Scatter>
        <Scatter data={youngBins} shape={square(NAVY)} isAnimationActive={false} zIndex={1000}>
          <ErrorBar dataKey="ex" direction="x" width={0} stroke={NAVY} strokeWidth={1.6} isAnimationActive={false} zIndex={900} />
          <ErrorBar dataKey="ey" direction="y" width={0} stroke={NAVY} strokeWidth={1.6} isAnimationActive={false} zIndex={900} />
        </Scatter>
      </ScatterChart>
      <LegendBox />
    </div>
  );
}
